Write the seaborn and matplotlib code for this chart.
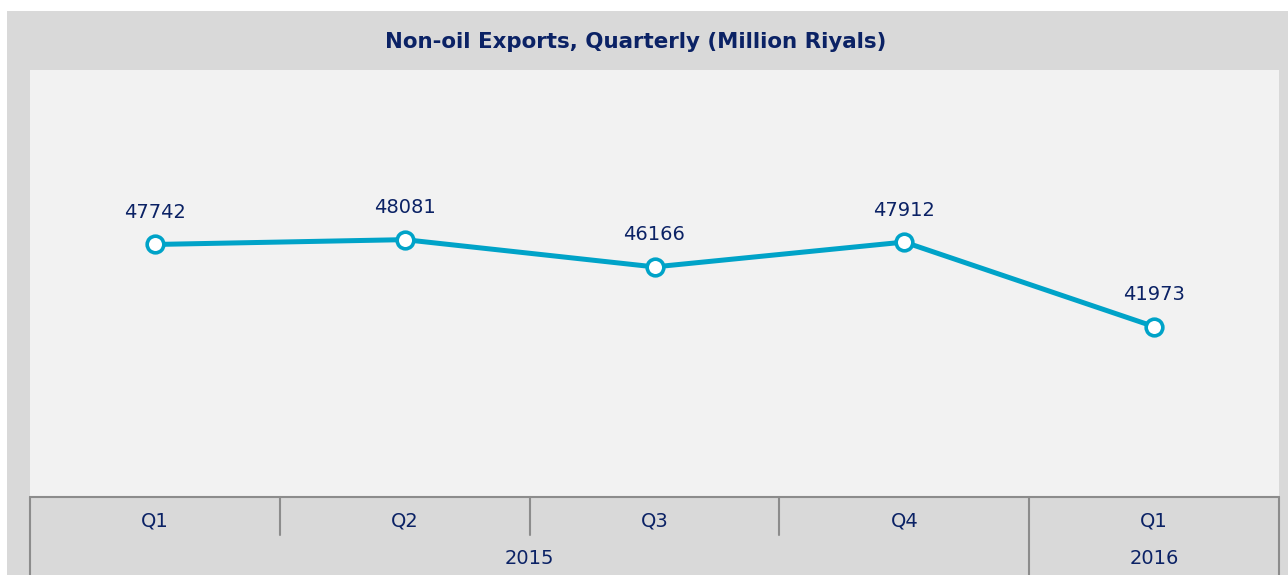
import pandas as pd
import matplotlib
matplotlib.use('Agg')
import matplotlib.pyplot as plt
from matplotlib.patches import Rectangle
import seaborn as sns

# ── data ────────────────────────────────────────────────────────────────
quarters = ['Q1', 'Q2', 'Q3', 'Q4', 'Q1']
years = ['2015', '2015', '2015', '2015', '2016']
exports = [47742, 48081, 46166, 47912, 41973]

TITLE = 'Non-oil Exports, Quarterly (Million Riyals)'
NAVY = '#0b2265'
CYAN = '#00a3c8'
GRID_GRAY = '#8c8c8c'

sns.set_style('white')
plt.rcParams['font.family'] = ['DejaVu Sans']

W, H = 1288, 575
fig = plt.figure(figsize=(W / 100, H / 100), dpi=100, facecolor='white')

# outer gray panel (drawn behind the axes)
fig.patches.append(Rectangle((7 / W, 0), 1 - 7 / W, (H - 11) / H,
                             transform=fig.transFigure, facecolor='#d9d9d9',
                             edgecolor='none', zorder=-10))

# plot area: x 30..1279, y 70..497 (pixels from top)
ax = fig.add_axes([30 / W, (H - 497) / H, 1249 / W, 427 / H])
ax.set_facecolor('#f2f2f2')

df = pd.DataFrame({'pos': range(len(exports)), 'value': exports})
sns.lineplot(data=df, x='pos', y='value', ax=ax, color=CYAN, linewidth=3.6,
             marker='o', markersize=12, markerfacecolor='white',
             markeredgecolor=CYAN, markeredgewidth=2.6, zorder=3)

for i, v in enumerate(exports):
    ax.annotate(str(v), (i, v), xytext=(0, 23), textcoords='offset points',
                ha='center', va='center', fontsize=14, color=NAVY)

ax.set_xlim(-0.5, len(exports) - 0.5)
ax.set_ylim(30000, 60000)
ax.set_xticks([])
ax.set_yticks([])
ax.set_xlabel('')
ax.set_ylabel('')
for s in ax.spines.values():
    s.set_visible(False)

# ── multi-level category axis ───────────────────────────────────────────
tr = ax.get_xaxis_transform()
q_bot = -38 / 427
y_bot = -78 / 427
ax.plot([-0.5, len(exports) - 0.5], [0, 0], transform=tr, color=GRID_GRAY,
        lw=1.5, clip_on=False)
for i in range(len(exports) + 1):
    x = i - 0.5
    full = i == 0 or i == len(exports) or (0 < i < len(exports) and years[i] != years[i - 1])
    ax.plot([x, x], [0, y_bot if full else q_bot], transform=tr,
            color=GRID_GRAY, lw=1.5, clip_on=False)

for i, q in enumerate(quarters):
    ax.text(i, -24 / 427, q, transform=tr, ha='center', va='center',
            fontsize=14, color=NAVY)

# year labels centred under their quarters
start = 0
for i in range(1, len(years) + 1):
    if i == len(years) or years[i] != years[start]:
        mid = (start + i - 1) / 2
        ax.text(mid, -61 / 427, years[start], transform=tr, ha='center',
                va='center', fontsize=14, color=NAVY)
        start = i

fig.text(636 / W, 1 - 42 / H, TITLE, ha='center', va='center',
         fontsize=15.4, fontweight='bold', color=NAVY)

fig.savefig('out.png', dpi=100, facecolor='white')
